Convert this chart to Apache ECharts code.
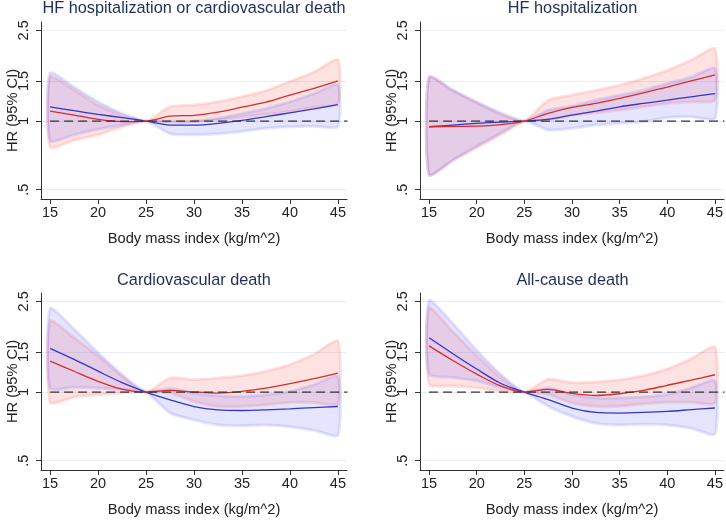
<!doctype html>
<html>
<head>
<meta charset="utf-8">
<script src="https://cdn.jsdelivr.net/npm/echarts@6/dist/echarts.min.js"></script>
<style>
  html, body { margin: 0; padding: 0; background: #fff; }
  #main { width: 726px; height: 520px; }
</style>
</head>
<body>
<div id="main"></div>
<script>
// body mass index grid the curves are read at
var bmi = [15, 17.5, 20, 22.5, 25, 27.5, 30, 32.5, 35, 37.5, 40, 42.5, 45];
var xTicks = [15, 20, 25, 30, 35, 40, 45];
var yTicks = [0.5, 1, 1.5, 2.5];
var titles = ['HF hospitalization or cardiovascular death', 'HF hospitalization', 'Cardiovascular death', 'All-cause death'];

// HF hospitalization or cardiovascular death
var p1Red    = [1.105, 1.062, 1.017, 0.995, 1, 1.05, 1.06, 1.095, 1.15, 1.21, 1.30, 1.39, 1.50];
var p1RedLo  = [0.767, 0.825, 0.87, 0.944, 1, 0.99, 0.995, 1.01, 1.04, 1.07, 1.10, 1.15, 1.195];
var p1RedHi  = [1.56, 1.37, 1.175, 1.06, 1, 1.155, 1.175, 1.215, 1.28, 1.36, 1.49, 1.64, 1.86];
var p1Blue   = [1.155, 1.11, 1.07, 1.035, 1, 0.96, 0.96, 0.977, 1.007, 1.045, 1.087, 1.13, 1.18];
var p1BlueLo = [0.818, 0.87, 0.92, 0.96, 1, 0.88, 0.87, 0.88, 0.90, 0.93, 0.945, 0.95, 0.945];
var p1BlueHi = [1.627, 1.41, 1.215, 1.08, 1, 1.0, 1.0, 1.03, 1.08, 1.135, 1.215, 1.32, 1.44];

// HF hospitalization
var p2Red    = [0.944, 0.948, 0.95, 0.964, 1, 1.08, 1.147, 1.195, 1.256, 1.33, 1.41, 1.50, 1.594];
var p2RedLo  = [0.58, 0.67, 0.765, 0.87, 1, 1.01, 1.062, 1.087, 1.117, 1.155, 1.195, 1.215, 1.235];
var p2RedHi  = [1.56, 1.36, 1.20, 1.07, 1, 1.235, 1.30, 1.366, 1.437, 1.54, 1.67, 1.85, 2.08];
var p2Blue   = [0.944, 0.96, 0.977, 0.99, 1, 1.017, 1.062, 1.106, 1.155, 1.195, 1.235, 1.278, 1.32];
var p2BlueLo = [0.58, 0.675, 0.775, 0.885, 1, 0.913, 0.929, 0.96, 0.977, 0.993, 1.037, 1.045, 1.027];
var p2BlueHi = [1.56, 1.37, 1.215, 1.09, 1, 1.117, 1.163, 1.235, 1.30, 1.366, 1.46, 1.56, 1.70];

// Cardiovascular death
var p3Red    = [1.367, 1.234, 1.115, 1.03, 1, 1.017, 1.0, 0.99, 1.007, 1.04, 1.088, 1.145, 1.21];
var p3RedLo  = [0.9, 0.95, 0.973, 0.99, 1, 0.99, 0.909, 0.864, 0.864, 0.879, 0.9, 0.9, 0.888];
var p3RedHi  = [2.05, 1.73, 1.44, 1.17, 1, 1.153, 1.134, 1.153, 1.18, 1.234, 1.32, 1.463, 1.675];
var p3Blue   = [1.555, 1.39, 1.235, 1.10, 1, 0.925, 0.864, 0.835, 0.83, 0.835, 0.844, 0.855, 0.864];
var p3BlueLo = [1.04, 1.05, 1.04, 1.024, 1, 0.81, 0.755, 0.717, 0.712, 0.717, 0.705, 0.68, 0.647];
var p3BlueHi = [2.33, 1.887, 1.488, 1.193, 1, 1.04, 0.99, 0.963, 0.957, 0.973, 1.007, 1.078, 1.17];

// All-cause death
var p4Red    = [1.594, 1.375, 1.199, 1.064, 1, 1.028, 0.986, 0.966, 0.983, 1.017, 1.071, 1.127, 1.191];
var p4RedLo  = [1.082, 1.064, 1.045, 1.01, 1, 0.976, 0.896, 0.866, 0.866, 0.887, 0.902, 0.902, 0.896];
var p4RedHi  = [2.34, 1.84, 1.448, 1.159, 1, 1.139, 1.10, 1.108, 1.131, 1.179, 1.262, 1.399, 1.577];
var p4Blue   = [1.73, 1.473, 1.262, 1.093, 1, 0.927, 0.851, 0.814, 0.809, 0.814, 0.823, 0.837, 0.851];
var p4BlueLo = [1.199, 1.159, 1.12, 1.045, 1, 0.866, 0.781, 0.73, 0.717, 0.722, 0.717, 0.693, 0.654];
var p4BlueHi = [2.52, 2.0, 1.524, 1.199, 1, 1.045, 0.976, 0.943, 0.943, 0.953, 0.976, 1.045, 1.12];

var panels = [
  { red: p1Red, redLo: p1RedLo, redHi: p1RedHi, blue: p1Blue, blueLo: p1BlueLo, blueHi: p1BlueHi },
  { red: p2Red, redLo: p2RedLo, redHi: p2RedHi, blue: p2Blue, blueLo: p2BlueLo, blueHi: p2BlueHi },
  { red: p3Red, redLo: p3RedLo, redHi: p3RedHi, blue: p3Blue, blueLo: p3BlueLo, blueHi: p3BlueHi },
  { red: p4Red, redLo: p4RedLo, redHi: p4RedHi, blue: p4Blue, blueLo: p4BlueLo, blueHi: p4BlueHi }
];

var FONT = 'Liberation Sans, Arial, sans-serif';
var RED = '#dc2a2a', BLUE = '#3535c8';
var gridPos = [
  { left: 41, top: 22, width: 306, height: 177 },
  { left: 420, top: 22, width: 305, height: 177 },
  { left: 41, top: 293, width: 306, height: 177 },
  { left: 420, top: 293, width: 305, height: 177 }
];

function band(g, lo, hi, color) {
  return {
    type: 'custom', xAxisIndex: g, yAxisIndex: g, clip: true, silent: true,
    data: bmi.map(function (x, i) { return [x, lo[i], hi[i]]; }),
    encode: { x: 0, y: [1, 2] },
    renderItem: function (params, api) {
      if (params.dataIndex !== 0) return;
      var pts = [];
      for (var i = 0; i < bmi.length; i++) pts.push(api.coord([bmi[i], hi[i]]));
      for (var j = bmi.length - 1; j >= 0; j--) pts.push(api.coord([bmi[j], lo[j]]));
      return {
        type: 'polygon',
        shape: { points: pts, smooth: 0.2 },
        style: { fill: color, stroke: color, lineWidth: 3, lineJoin: 'round' }
      };
    }
  };
}

function curve(g, ys, color) {
  return {
    type: 'line', xAxisIndex: g, yAxisIndex: g, smooth: 0.3, showSymbol: false, silent: true,
    data: bmi.map(function (x, i) { return [x, ys[i]]; }),
    lineStyle: { color: color, width: 1.3 }, z: 3
  };
}

var option = { animation: false, backgroundColor: '#fff', title: [], grid: [], xAxis: [], yAxis: [], series: [] };

panels.forEach(function (p, g) {
  var gp = gridPos[g];
  option.grid.push(gp);
  option.title.push({
    text: titles[g], left: gp.left + 9.6 + (gp.width - 19.2) / 2, textAlign: 'center',
    top: g < 2 ? 1 : 273, padding: 0,
    textStyle: { fontFamily: FONT, fontSize: 16.3, fontWeight: 'normal', color: '#1f2d58' }
  });
  option.xAxis.push({
    type: 'value', gridIndex: g, min: 14.05, max: 45.95,
    name: 'Body mass index (kg/m^2)', nameLocation: 'middle', nameGap: 32, nameMoveOverlap: false,
    nameTextStyle: { fontFamily: FONT, fontSize: 14.7, color: '#222' },
    axisLine: { show: true, onZero: false, lineStyle: { color: '#333', width: 1 } },
    axisTick: { show: true, length: 5, customValues: xTicks, lineStyle: { color: '#333' } },
    axisLabel: { customValues: xTicks, fontFamily: FONT, fontSize: 14.5, color: '#222', margin: 6 },
    splitLine: { show: false }
  });
  option.yAxis.push({
    type: 'log', gridIndex: g, min: 0.455, max: 2.72,
    name: 'HR (95% CI)', nameLocation: 'middle', nameGap: 21, nameRotate: 90, nameMoveOverlap: false,
    nameTextStyle: { fontFamily: FONT, fontSize: 14.7, color: '#222' },
    axisLine: { show: true, lineStyle: { color: '#333', width: 1 } },
    axisTick: { show: true, length: 5, customValues: yTicks, lineStyle: { color: '#333' } },
    axisLabel: {
      customValues: yTicks, rotate: 90, align: 'center', verticalAlign: 'bottom', margin: 10,
      fontFamily: FONT, fontSize: 14.5, color: '#222',
      formatter: function (v) { var r = Math.round(v * 10) / 10; return r === 0.5 ? '.5' : String(r); }
    },
    splitLine: { show: true, lineStyle: { color: '#e6eef1', width: 1 } }
  });
  option.series.push(band(g, p.redLo, p.redHi, 'rgba(255,70,70,0.15)'));
  option.series.push(band(g, p.blueLo, p.blueHi, 'rgba(80,80,255,0.15)'));
  option.series.push({
    type: 'line', xAxisIndex: g, yAxisIndex: g, showSymbol: false, silent: true, z: 4,
    data: [[15, 1], [46, 1]],
    lineStyle: { color: '#333', width: 1.2, type: [9, 5] }
  });
  option.series.push(curve(g, p.blue, BLUE));
  option.series.push(curve(g, p.red, RED));
});

var chart = echarts.init(document.getElementById('main'), null, { renderer: 'canvas' });
chart.setOption(option);
</script>
</body>
</html>
